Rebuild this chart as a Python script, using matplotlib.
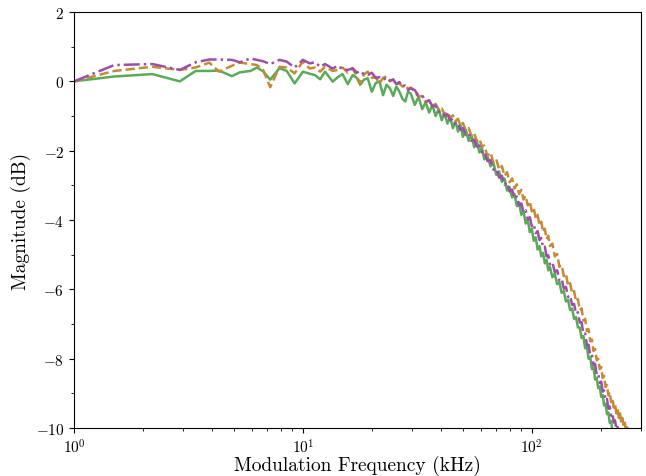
import matplotlib
matplotlib.use("Agg")
import matplotlib.pyplot as plt
from matplotlib.ticker import MultipleLocator

plt.rcParams['font.family'] = 'serif'
plt.rcParams['font.serif'] = ['cmr10']
plt.rcParams['mathtext.fontset'] = 'cm'
plt.rcParams['axes.formatter.use_mathtext'] = True

# --- data ---
# modulation frequency, kHz (shared by all three traces)
freq = [1.0, 1.5, 2.2, 2.9, 3.4, 3.9, 4.3, 4.9, 5.3, 5.9, 6.3, 6.7, 7.2, 7.9, 8.5, 9.2,
        10.0, 10.7, 11.3, 11.9, 12.5, 13.5, 14.2, 14.9, 15.7, 16.5, 17.2, 17.8, 18.5, 19.2,
        20.0, 20.8, 21.6, 22.4, 23.2, 24.0, 24.8, 25.6, 26.4, 27.2, 28.0, 28.8, 29.6,
        30.8, 32.0, 33.2, 34.4, 35.6, 36.8, 38.0, 39.2, 40.4, 41.6, 42.8, 44.0, 45.2, 46.4,
        47.6, 48.8, 50.0, 51.5, 53.0, 54.5, 56.0, 57.5, 59.0, 60.5,
        62, 64, 66, 68, 70, 72, 74, 76, 78, 80, 82, 84, 86, 88, 90, 92, 94, 96, 98, 100,
        102, 104, 106, 108, 110, 112, 114, 116, 118, 120,
        123, 126, 129, 132, 135, 138, 141, 144, 147, 150, 153, 156, 159, 162, 165, 168,
        171, 174, 177, 180, 183, 186, 189, 192, 195, 198, 201, 204, 207, 210, 213, 216,
        219, 222, 225, 228, 231, 234, 237, 240, 243, 246, 249, 252, 255, 258, 261, 264,
        267, 270]

# magnitude, dB
mag_green = [0.0, 0.14, 0.21, 0.0, 0.3, 0.3, 0.31, 0.15, 0.26, 0.3, 0.4, 0.29, 0.05, 0.38, 0.3, -0.06,
             0.28, 0.22, 0.18, 0.06, 0.28, -0.01, 0.12, 0.21, -0.08, 0.18, 0.1, -0.1, 0.05, 0.09,
             -0.3, -0.05, 0.0, -0.4, -0.1, -0.2, -0.42, -0.15, -0.3, -0.5, -0.58, -0.3, -0.35,
             -0.68, -0.45, -0.8, -0.6, -0.9, -0.68, -1.0, -0.8, -1.12, -0.92, -1.22, -1.02, -1.35, -1.15,
             -1.45, -1.25, -1.6, -1.4, -1.72, -1.55, -1.9, -1.72, -2.05, -1.9,
             -2.25, -2.15, -2.45, -2.35, -2.7, -2.6, -2.9, -2.8, -3.15, -3.05, -3.35, -3.25, -3.6, -3.5,
             -3.85, -3.75, -4.1, -4.0, -4.35, -4.25,
             -4.6, -4.5, -4.85, -4.75, -5.05, -4.95, -5.25, -5.15, -5.45, -5.35,
             -5.65, -5.55, -5.85, -5.8, -6.1, -6.05, -6.35, -6.3, -6.6, -6.55, -6.85, -6.8, -7.1, -7.1,
             -7.4, -7.35, -7.7, -7.65, -8.0, -7.95, -8.3, -8.25, -8.6, -8.55, -8.85, -8.8, -9.1, -9.05,
             -9.35, -9.3, -9.6, -9.55, -9.85, -9.8, -10.1, -10.05, -10.3, -10.25, -10.5, -10.45,
             -10.65, -10.9, -10.85, -11.1, -11.05, -11.3, -11.25, -11.5, -11.45, -11.7]

mag_orange = [0.0, 0.3, 0.42, 0.33, 0.4, 0.54, 0.28, 0.45, 0.54, 0.5, 0.47, 0.33, -0.17, 0.42, 0.4, 0.23,
              0.57, 0.37, 0.4, 0.28, 0.42, 0.3, 0.33, 0.4, 0.25, 0.37, 0.15, -0.06, 0.2, 0.28,
              0.1, 0.12, -0.06, 0.1, 0.14, 0.0, 0.06, -0.1, -0.05, -0.15, -0.1, -0.22, -0.18,
              -0.3, -0.45, -0.42, -0.6, -0.55, -0.72, -0.65, -0.82, -0.78, -0.95, -0.88, -1.05, -0.98, -1.15,
              -1.08, -1.28, -1.2, -1.42, -1.35, -1.58, -1.5, -1.72, -1.65, -1.88,
              -1.85, -2.15, -2.05, -2.35, -2.25, -2.55, -2.44, -2.73, -2.62, -2.91, -2.8, -3.09, -2.97, -3.25,
              -3.13, -3.41, -3.3, -3.58, -3.46, -3.75,
              -3.65, -3.95, -3.85, -4.15, -4.05, -4.35, -4.25, -4.55, -4.45, -4.75,
              -4.68, -5.05, -4.98, -5.35, -5.3, -5.62, -5.55, -5.9, -5.82, -6.12, -6.05, -6.35, -6.28, -6.6,
              -6.55, -6.9, -6.85, -7.2, -7.15, -7.5, -7.45, -7.78, -7.72, -8.05, -8.0, -8.3, -8.24, -8.56,
              -8.5, -8.82, -8.76, -9.06, -8.96, -9.25, -9.13, -9.41, -9.3, -9.58, -9.45, -9.71,
              -9.58, -9.85, -9.71, -9.98, -9.85, -10.11, -9.98, -10.25, -10.12, -10.4]

mag_purple = [0.0, 0.47, 0.5, 0.33, 0.55, 0.63, 0.63, 0.62, 0.55, 0.66, 0.62, 0.58, 0.5, 0.62, 0.57, 0.4,
              0.62, 0.52, 0.55, 0.42, 0.5, 0.37, 0.45, 0.35, 0.33, 0.38, 0.25, 0.3, 0.2, 0.18,
              0.25, 0.1, 0.12, 0.05, 0.1, 0.02, 0.05, -0.08, -0.02, -0.15, -0.12, -0.25, -0.2,
              -0.25, -0.42, -0.4, -0.58, -0.55, -0.72, -0.7, -0.88, -0.85, -1.0, -0.95, -1.12, -1.08, -1.25,
              -1.22, -1.4, -1.35, -1.55, -1.5, -1.72, -1.68, -1.88, -1.85, -2.05,
              -2.02, -2.3, -2.27, -2.55, -2.52, -2.78, -2.72, -2.98, -2.92, -3.18, -3.12, -3.38, -3.32, -3.58,
              -3.52, -3.78, -3.72, -3.98, -3.92, -4.18,
              -4.12, -4.38, -4.32, -4.58, -4.52, -4.8, -4.77, -5.05, -5.02, -5.28,
              -5.22, -5.5, -5.45, -5.75, -5.7, -5.98, -5.93, -6.22, -6.18, -6.45, -6.42, -6.7, -6.66, -6.96,
              -6.95, -7.28, -7.27, -7.6, -7.6, -7.9, -7.88, -8.18, -8.15, -8.45, -8.42, -8.7, -8.66, -8.95,
              -8.92, -9.2, -9.16, -9.44, -9.38, -9.64, -9.58, -9.84, -9.78, -10.03, -9.97, -10.2,
              -10.15, -10.39, -10.32, -10.57, -10.49, -10.74, -10.66, -10.91, -10.83, -11.08]

fig = plt.figure(figsize=(6.46, 4.77), dpi=100)
ax = fig.add_axes([0.1145, 0.1006, 0.8778, 0.8721])

ax.plot(freq, mag_green, color='#5aaa5a', lw=1.8, linestyle='-')
ax.plot(freq, mag_orange, color='#c48a3a', lw=1.8, linestyle='--')
ax.plot(freq, mag_purple, color='#9b4fa6', lw=1.8, linestyle='-.')

ax.set_xscale('log')
ax.set_xlim(1, 300)
ax.set_ylim(-10, 2)
ax.yaxis.set_major_locator(MultipleLocator(2))
ax.yaxis.set_minor_locator(MultipleLocator(1))
ax.tick_params(labelsize=11)

ax.set_xlabel('Modulation Frequency (kHz)', fontsize=14, labelpad=-1)
ax.set_ylabel('Magnitude (dB)', fontsize=14, labelpad=3)

fig.savefig('out.png', dpi=100)
